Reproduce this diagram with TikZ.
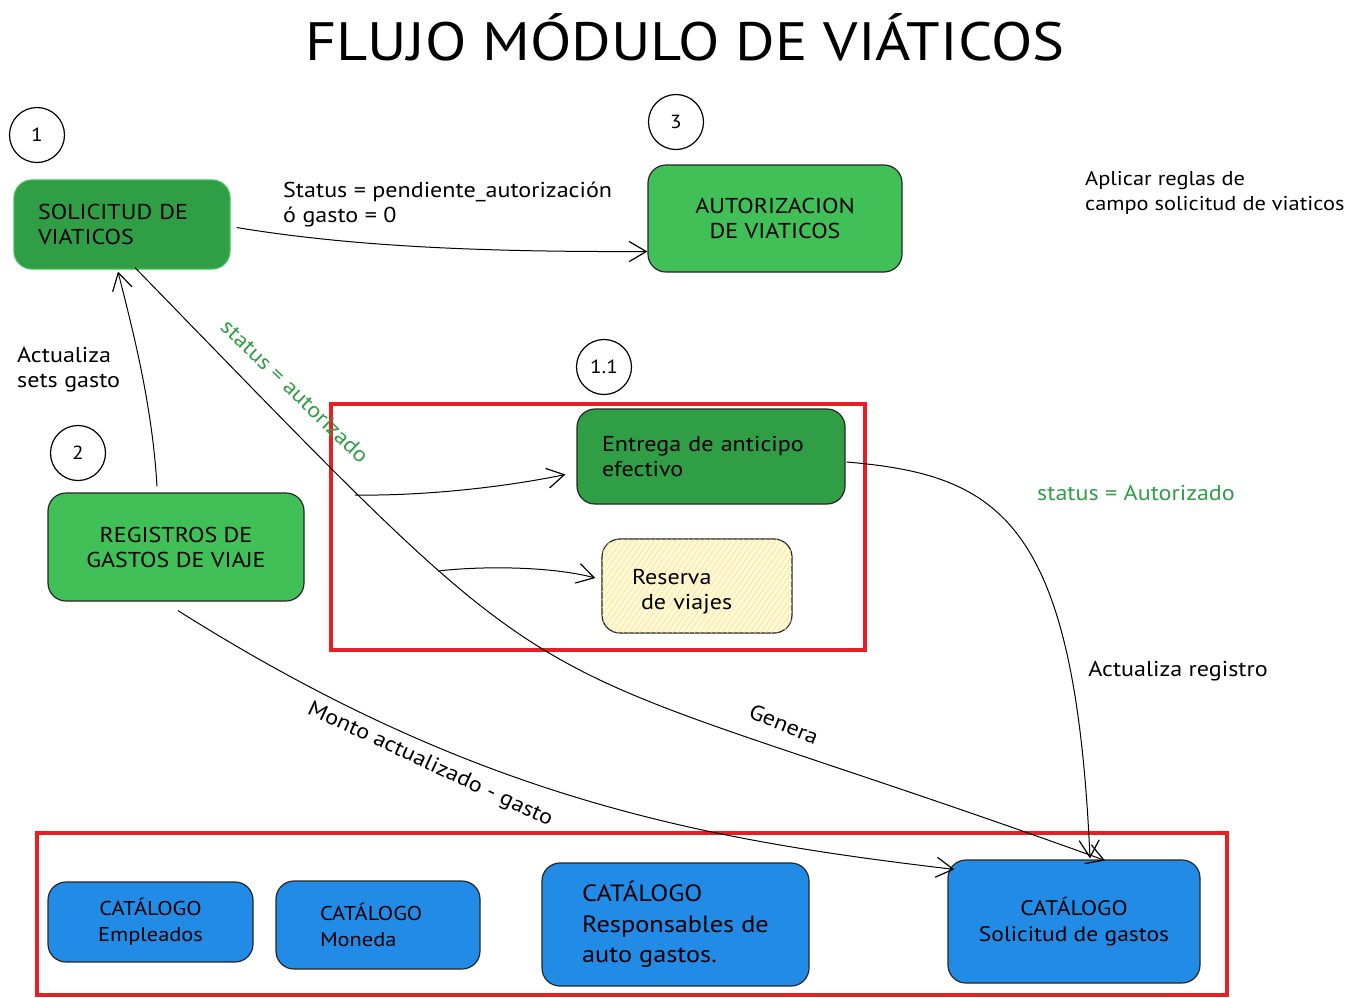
\documentclass[tikz,border=0pt]{standalone}
\usepackage{fontspec}
\setmainfont[FakeStretch=1.12]{PT Sans}
\usetikzlibrary{arrows.meta,patterns.meta,calc}
\definecolor{dgreen}{HTML}{2F9E44}
\definecolor{lgreen}{HTML}{40C057}
\definecolor{cblue}{HTML}{228BE6}
\definecolor{cred}{RGB}{232,30,37}
\definecolor{cyel}{HTML}{FFF9DB}
\definecolor{chatch}{HTML}{FFE27A}
\begin{document}
\begin{tikzpicture}[x=1pt,y=-1pt,
  every node/.style={font=\fontsize{21.5}{25}\selectfont},
  box/.style={draw=black!85, line width=1.2pt, rounded corners=18pt, inner sep=0pt},
  num/.style={circle, draw, line width=1.2pt, minimum size=55pt, inner sep=0pt, font=\fontsize{19}{20}\selectfont},
  conn/.style={line width=1pt, -{Straight Barb[length=17pt,width=20pt,line width=1.2pt]}},
  frame/.style={draw=cred, line width=3.5pt},
  lbl/.style={align=left, inner sep=0pt},
  glbl/.style={inner sep=0pt, text=dgreen},
  cattext/.style={font=\fontsize{20}{26}\selectfont},
]
\useasboundingbox (0,0) rectangle (1359,997);
\fill[white] (0,0) rectangle (1359,997);

% title
\node[inner sep=0pt, font=\fontsize{54}{58}\selectfont] (title) at (685,37) {FLUJO MÓDULO DE VIÁTICOS};

% number circles
\node[num] (n1) at (37,135) {1};
\node[num] (n3) at (676,122) {3};
\node[num] (n11) at (604,367) {1.1};
\node[num] (n2) at (78,453) {2};

% frames
\draw[frame] (331,404) rectangle (865,650);
\draw[frame] (37,833) rectangle (1227,995);

% main boxes
\node[box, draw=lgreen, fill=dgreen, minimum width=216pt, minimum height=89pt, text width=168pt, align=left] (sol) at (122,224.5) {SOLICITUD DE\\VIATICOS};
\node[box, fill=lgreen, minimum width=254pt, minimum height=107pt, align=center] (aut) at (775,218.5) {AUTORIZACION\\DE VIATICOS};
\node[box, fill=dgreen, minimum width=268pt, minimum height=95pt, text width=218pt, align=left] (ent) at (711,456.5) {Entrega de anticipo\\efectivo};
\node[box, fill=cyel, minimum width=190pt, minimum height=94pt, text width=130pt, align=left,
  postaction={pattern={Lines[angle=55,distance=4.5pt,line width=0.6pt]}, pattern color=chatch}] (res) at (697,586) {\raisebox{-6pt}[\height][\depth]{\begin{tabular}{@{}l@{}}Reserva\\\hspace*{9pt}de viajes\end{tabular}}};
\node[box, fill=lgreen, minimum width=256pt, minimum height=108pt, align=center] (reg) at (176,547) {REGISTROS DE\\GASTOS DE VIAJE};

% catalog boxes
\node[box, fill=cblue, minimum width=205pt, minimum height=80pt, align=center, cattext] (emp) at (150.5,922) {CATÁLOGO\\Empleados};
\node[box, fill=cblue, minimum width=204pt, minimum height=88pt, text width=116pt, align=left, cattext] (mon) at (378,925) {CATÁLOGO\\Moneda};
\node[box, fill=cblue, minimum width=267pt, minimum height=123pt, align=left, font=\fontsize{23.5}{30.5}\selectfont] (resp) at (675.5,924.5) {CATÁLOGO\\Responsables de\\auto gastos.};
\node[box, fill=cblue, minimum width=252pt, minimum height=123pt, align=center, font=\fontsize{21}{26}\selectfont] (cat) at (1074,921.5) {CATÁLOGO\\Solicitud de gastos};

% free labels
\node[lbl, anchor=west] (lstatus) at (283,205) {Status = pendiente\_autorización\\ó gasto = 0};
\node[lbl, anchor=west, font=\fontsize{20}{25}\selectfont] (lreglas) at (1085,192.5) {Aplicar reglas de\\campo solicitud de viaticos};
\node[lbl, anchor=west] (lsets) at (17,369.5) {Actualiza\\sets gasto};
\node[glbl, rotate=-44] (lauto) at (295,391) {status = autorizado};
\node[glbl] (lAuto) at (1136,493) {status = Autorizado};
\node[inner sep=0pt] (lreg) at (1178,671) {Actualiza registro};
\node[inner sep=0pt, rotate=-22] (lgen) at (784,724) {Genera};
\node[inner sep=0pt, rotate=-25] (lmonto) at (430,765) {Monto actualizado - gasto};

% connector helper points
\coordinate (e1) at (355,495);
\coordinate (e2) at (438,571);

% connectors
\draw[conn] ($(sol.east)+(6,3)$) .. controls (360,248) and (500,252) .. ($(aut.west)+(0,33)$);
\draw[conn] ($(reg.north)+(-19,-6)$) .. controls (152,400) and (130,320) .. ($(sol.south)+(-4,2)$);
\draw[conn] ($(sol.south)+(13,-2)$) .. controls (601,747) and (477,634) .. ($(cat.north)+(31,1)$);
\draw[conn] ($(reg.south)+(2,9)$) .. controls (478,800) and (705,840) .. ($(cat.north west)+(7,10)$);
\draw[conn] (e1) .. controls (420,496) and (500,488) .. ($(ent.west)+(-11,18)$);
\draw[conn] (e2) .. controls (480,566) and (550,566) .. ($(res.west)+(-6,-8)$);
\draw[conn] ($(ent.east)+(1,5.5)$) .. controls (1000,475) and (1075,520) .. ($(cat.north)+(16,-1)$);
\end{tikzpicture}
\end{document}
